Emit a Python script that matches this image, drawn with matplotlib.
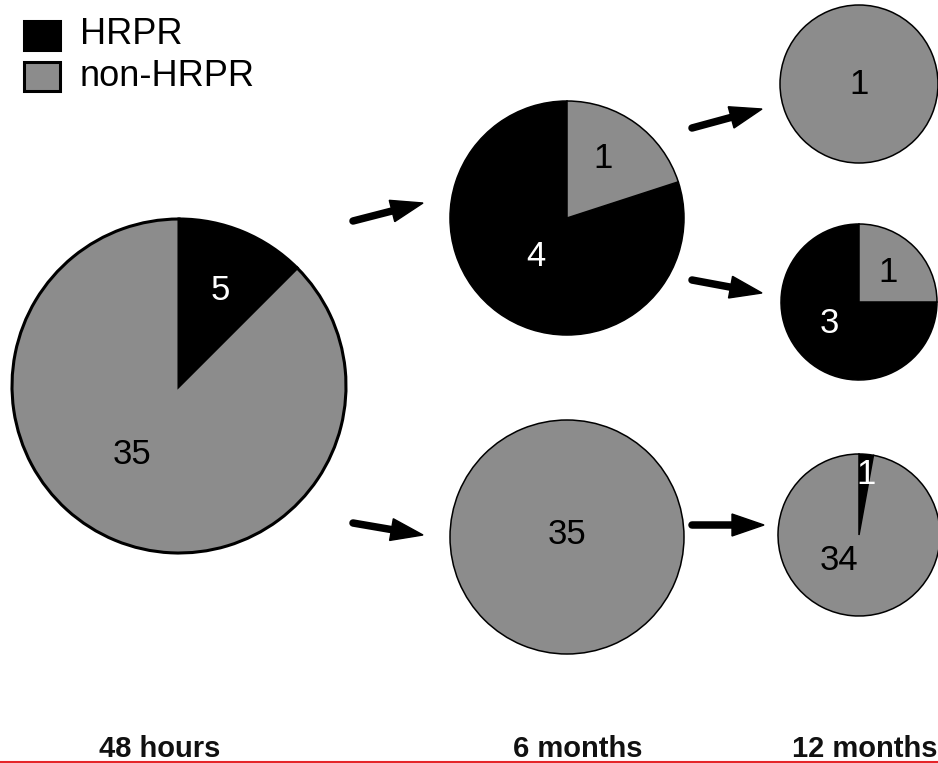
import numpy as np
import matplotlib.pyplot as plt
from matplotlib.patches import Rectangle, Polygon

plt.rcParams['font.family'] = ['Liberation Sans', 'DejaVu Sans']

# dados
categorias = ['HRPR', 'non-HRPR']
cores = ['#000000', '#8c8c8c']
cor_texto = ['white', 'black']
periodos = ['48 hours', '6 months', '12 months']
hrpr = [5, 4, 0, 0, 3, 1]
non_hrpr = [35, 1, 35, 1, 1, 34]

# layout (pixels, origem no canto superior esquerdo)
W, H = 938, 763
centros = [(179, 386), (567, 218), (567, 537), (859, 84), (859, 302), (859, 535)]
raios = [167, 117, 117, 79, 78, 81]
larguras = [2.2, 1.1, 1.1, 1.1, 1.1, 1.1]
horario = [True, False, False, True, False, True]
# posicao dos rotulos relativa ao centro, em unidades de raio (hrpr, non-hrpr)
pos_rotulos = [
    [(0.25, -0.57), (-0.28, 0.41)],
    [(-0.27, 0.33), (0.31, -0.51)],
    [(0, 0), (0.0, -0.02)],
    [(0, 0), (0.0, 0.0)],
    [(-0.38, 0.28), (0.37, -0.38)],
    [(0.09, -0.75), (-0.25, 0.32)],
]
setas = [((353, 221), (423, 203)), ((353, 523), (423, 535)),
         ((692, 128), (762, 109)), ((692, 280), (762, 293)),
         ((692, 525), (764, 525))]
x_periodos = [160, 578, 865]


def px(x, y):
    return x, H - y


fig = plt.figure(figsize=(W / 100, H / 100), dpi=100)
ax = fig.add_axes([0, 0, 1, 1])

# pizzas
for i in range(len(hrpr)):
    vals, cs = [], []
    for v, c in zip((hrpr[i], non_hrpr[i]), cores):
        if v > 0:
            vals.append(v)
            cs.append(c)
    cx, cy = px(*centros[i])
    ax.pie(vals, colors=cs, startangle=90, counterclock=not horario[i],
           center=(cx, cy), radius=raios[i], frame=True,
           wedgeprops=dict(edgecolor='black', linewidth=larguras[i]))
    for k, v in enumerate((hrpr[i], non_hrpr[i])):
        if v == 0:
            continue
        dx, dy = pos_rotulos[i][k]
        ax.text(cx + dx * raios[i], cy - dy * raios[i], str(v),
                ha='center', va='center', fontsize=25, color=cor_texto[k])


# setas
def seta(p0, p1, w=7.5, hw=22, hl=32):
    a = np.array(px(*p0), dtype=float)
    b = np.array(px(*p1), dtype=float)
    u = (b - a) / np.linalg.norm(b - a)
    n = np.array([-u[1], u[0]])
    base = b - u * hl
    ax.plot([a[0], base[0] + u[0] * 3], [a[1], base[1] + u[1] * 3],
            color='black', lw=w * 0.72, solid_capstyle='round')
    ax.add_patch(Polygon([b, base + n * hw / 2, base - n * hw / 2],
                         closed=True, color='black'))


for p0, p1 in setas:
    seta(p0, p1)

# legenda
for k, (nome, cor) in enumerate(zip(categorias, cores)):
    y = 35 + 41 * k
    ax.add_patch(Rectangle(px(24, y + 14.5), 36, 29, facecolor=cor,
                           edgecolor='black', linewidth=2.2))
    ax.text(80, H - y, nome, ha='left', va='center', fontsize=26)

# periodos
for x, nome in zip(x_periodos, periodos):
    ax.text(x, H - 757, nome, ha='center', va='baseline', fontsize=21,
            fontweight='bold', color='#111111')

# linha vermelha embaixo
ax.plot([0, W], [H - 761.5, H - 761.5], color='#e52529', lw=1.5, clip_on=False)

ax.set_xlim(0, W)
ax.set_ylim(0, H)
ax.set_aspect('equal')
ax.axis('off')
fig.savefig('out.png', dpi=100)
